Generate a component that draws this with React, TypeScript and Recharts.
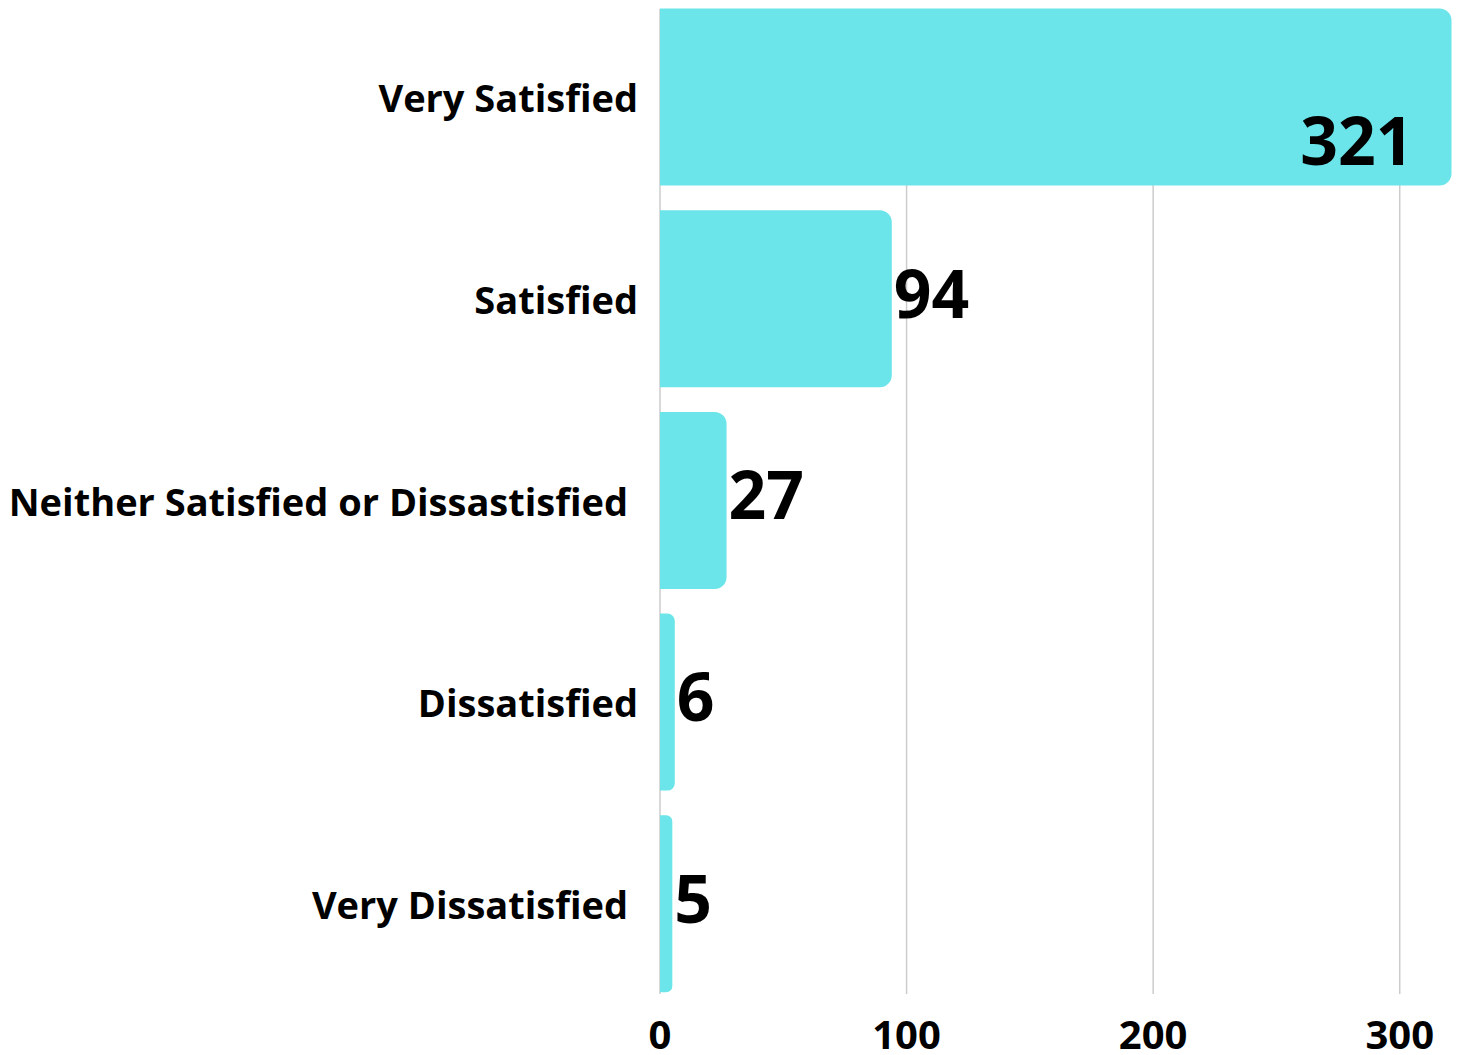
import { BarChart, Bar, XAxis, YAxis, CartesianGrid, LabelList } from "recharts"

// survey answers, top to bottom
const categories = [
  "Very Satisfied",
  "Satisfied",
  "Neither Satisfied or Dissastisfied",
  "Dissatisfied",
  "Very Dissatisfied",
]
const responses = [321, 94, 27, 6, 5]
const xTicks = [0, 100, 200, 300]
const xDomain = [0, 321]

const data = categories.map((name, i) => ({ name, count: responses[i] }))

const BAR_COLOR = "#6be5e9"
const FONT = "'Open Sans', sans-serif"

// two of the labels sit a bit further from the axis in the source
const labelShift: Record<string, number> = {
  "Neither Satisfied or Dissastisfied": -10,
  "Very Dissatisfied": -10,
}

const CategoryTick = ({ x, y, payload }: any) => (
  <text
    x={x + (labelShift[payload.value] || 0)}
    y={y}
    textAnchor="end"
    dominantBaseline="central"
    fontFamily={FONT}
    fontWeight={700}
    fontSize={38}
    fill="#000"
  >
    {payload.value}
  </text>
)

const ValueLabel = ({ x, y, width, height, value }: any) => {
  const max = Math.max(...responses)
  // the longest bar carries its number inside, bottom right
  if (value === max) {
    return (
      <text
        x={x + width - 38}
        y={y + height - 21}
        textAnchor="end"
        fontFamily={FONT}
        fontWeight={700}
        fontSize={66}
        fill="#000"
      >
        {value}
      </text>
    )
  }
  return (
    <text
      x={x + width + 2}
      y={y + height / 2 + 19}
      textAnchor="start"
      fontFamily={FONT}
      fontWeight={700}
      fontSize={66}
      fill="#000"
    >
      {value}
    </text>
  )
}

// grid only at the tick values, not at the domain end
const gridX = ({ xAxis, offset }: any) => {
  const sc = xAxis && xAxis.scale
  if (typeof sc === "function") return xTicks.map((t) => sc(t))
  if (sc && typeof sc.map === "function") return xTicks.map((t) => sc.map(t))
  return xTicks.map(
    (t) => offset.left + (offset.width * (t - xDomain[0])) / (xDomain[1] - xDomain[0])
  )
}

export default function App() {
  return (
    <div style={{ position: "absolute", left: 0, top: 0, background: "#fff" }}>
      <BarChart
        width={1458}
        height={1055}
        data={data}
        layout="vertical"
        margin={{ top: -3.5, right: 6.5, bottom: 0, left: 0 }}
        barSize={177}
      >
        <CartesianGrid
          horizontal={false}
          stroke="#cccccc"
          strokeWidth={1.5}
          y={9}
          height={985}
          verticalCoordinatesGenerator={gridX}
        />
        <XAxis
          type="number"
          domain={xDomain}
          ticks={xTicks}
          axisLine={false}
          tickLine={false}
          tickSize={0}
          tickMargin={16}
          height={50}
          interval={0}
          tick={{ fill: "#000", fontSize: 40, fontWeight: 700, fontFamily: FONT }}
        />
        <YAxis
          type="category"
          dataKey="name"
          width={660}
          axisLine={false}
          tickLine={false}
          tickSize={0}
          tickMargin={22}
          interval={0}
          tick={<CategoryTick />}
        />
        <Bar dataKey="count" fill={BAR_COLOR} radius={[0, 12, 12, 0]} isAnimationActive={false}>
          <LabelList dataKey="count" content={<ValueLabel />} />
        </Bar>
      </BarChart>
    </div>
  )
}
